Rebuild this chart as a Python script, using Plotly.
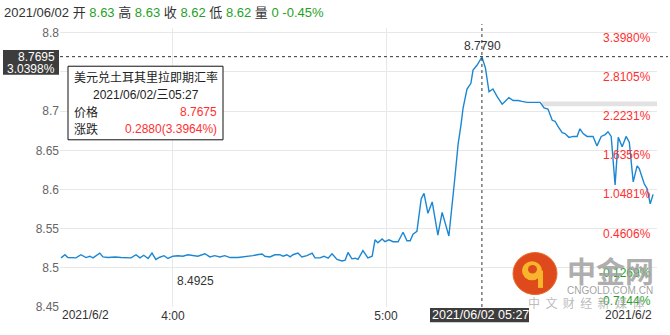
import plotly.graph_objects as go
import pandas as pd

# ---- data ----
minutes = [28.5, 29.6, 30.4, 31.8, 32.7, 34.1, 35.5, 36.6, 37.5, 39.4,
           40.3, 41.7, 43.7, 45.4, 48.2, 49.6, 50.7, 51.8, 53.0, 54.1,
           55.2, 56.3, 57.5, 58.6, 60.0, 61.4, 62.8, 64.2, 65.6, 67.0,
           69.0, 70.4, 71.8,
           73.2, 74.6, 76.1, 78.3, 80.3, 81.1, 82.5, 83.7, 85.1, 85.9,
           87.3, 88.7, 90.1, 91.0, 92.1, 93.0, 93.8, 95.2, 96.3, 97.7,
           99.2, 100.0, 101.4, 102.5, 103.7, 104.8, 106.2, 107.6, 108.5, 109.3,
           110.4, 111.3, 112.1, 113.5, 114.9, 116.1,
           116.9, 117.7, 118.9, 119.7, 120.8, 122.0, 123.4, 124.8, 125.9, 126.8,
           127.6, 128.7, 129.9, 130.7, 131.8, 133.0, 134.6, 135.8, 136.9, 137.7, 139.4,
           140.3, 141.1, 141.7, 142.8, 143.9, 144.5, 145.6, 147.0, 148.0, 149.0,
           150.1, 151.3, 152.7, 153.5, 154.6, 155.8, 157.2, 158.3, 159.7, 161.4, 163.4,
           164.5, 165.6, 166.8, 167.6, 168.5, 169.6, 170.4, 171.5, 172.7, 173.8,
           174.6, 175.5, 176.6, 178.3, 179.4, 180.6, 181.7, 182.5, 183.4, 184.5,
           185.4, 186.5, 187.6, 188.5, 189.6, 190.7, 191.3, 192.7, 193.5, 194.4, 195.2]

prices = [8.5127, 8.5167, 8.5131, 8.5131, 8.5127, 8.5167, 8.5131, 8.5148, 8.5127, 8.5188,
          8.5139, 8.5131, 8.5139, 8.5131, 8.5127, 8.5167, 8.5127, 8.5160, 8.5119, 8.5188,
          8.5107, 8.5135, 8.5155, 8.5119, 8.5148, 8.5155, 8.5148, 8.5167, 8.5155, 8.5148,
          8.5180, 8.5139, 8.5155,
          8.5139, 8.5155, 8.5131, 8.5131, 8.5139, 8.5148, 8.5155, 8.5167, 8.5176, 8.5148,
          8.5139, 8.5167, 8.5167, 8.5148, 8.5167, 8.5139, 8.5167, 8.5188, 8.5139, 8.5155,
          8.5188, 8.5127, 8.5127, 8.5148, 8.5123, 8.5180, 8.5107, 8.5087, 8.5099, 8.5196,
          8.5115, 8.5123, 8.5107, 8.5220, 8.5127, 8.5148,
          8.5357, 8.5321, 8.5369, 8.5333, 8.5357, 8.5333, 8.5333, 8.5454, 8.5345, 8.5345,
          8.5430, 8.5466, 8.5878, 8.5950, 8.5696, 8.5841, 8.5418, 8.5708, 8.5527, 8.5406, 8.6156,
          8.6580, 8.6822, 8.7040, 8.7282, 8.7355, 8.7524, 8.7585, 8.7690, 8.7549, 8.7246,
          8.7282, 8.7185, 8.7088, 8.7124, 8.7173, 8.7136, 8.7136, 8.7124, 8.7112, 8.7112, 8.7112,
          8.7040, 8.7027, 8.6883, 8.6871, 8.6798, 8.6725, 8.6713, 8.6665, 8.6677, 8.6677,
          8.6774, 8.6713, 8.6677, 8.6677, 8.6556, 8.6677, 8.6701, 8.6737, 8.6677, 8.6059,
          8.6665, 8.6544, 8.6677, 8.6604, 8.6096, 8.6302, 8.6266, 8.6072, 8.6011, 8.5817, 8.5938]

y_ticks = [8.45, 8.5, 8.55, 8.6, 8.65, 8.7, 8.75, 8.8]
y_tick_text = ["8.45", "8.5", "8.55", "8.6", "8.65", "8.7", "", "8.8"]
pct_labels = ["-0.7144%", "-0.1269%", "0.4606%", "1.0481%", "1.6356%", "2.2231%", "2.8105%", "3.3980%"]
x_tick_minutes = [60, 120]
x_tick_text = ["4:00", "5:00"]

cross_minute = 147.0
cross_price = 8.7695
cross_pct = "3.0398%"
cross_label = "2021/06/02 05:27"
max_label = "8.7790"
min_label = "8.4925"
header_parts = [("2021/06/02 开 ", "8.63"), (" 高 ", "8.63"), (" 收 ", "8.62"),
                (" 低 ", "8.62"), (" 量 ", "0"), (" ", "-0.45%")]
tip_title = "美元兑土耳其里拉即期汇率"
tip_time = "2021/06/02/三05:27"
tip_price = "8.7675"
tip_change = "0.2880(3.3964%)"

# ---- geometry helpers ----
W, H = 670, 335
L, R, T, B = 60, 657, 28, 320
def px(x):
    return (x - L) / (R - L)
def py(y):
    return (B - y) / (B - T)

base = pd.Timestamp("2021-06-02 03:00:00")
def tm(m):
    return base + pd.Timedelta(minutes=m)

times = [tm(m) for m in minutes]
FONT = "Liberation Sans, Arial, Noto Sans CJK SC, sans-serif"
RED = "#ff2f2f"
GREEN = "#1fa21f"
GRID = "#e8e8e8"

fig = go.Figure()
fig.add_trace(go.Scatter(x=times, y=prices, mode="lines",
                         line=dict(color="#1b87d3", width=1.4),
                         hoverinfo="skip", showlegend=False))

shapes = []
annotations = []

# gray band
shapes.append(dict(type="rect", xref="paper", yref="paper", x0=px(542), x1=px(657),
                   y0=py(110), y1=py(105), fillcolor="#e2e2e2", line=dict(width=0), layer="below"))
# crosshair
shapes.append(dict(type="line", xref="paper", yref="y", x0=0, x1=px(668), y0=cross_price, y1=cross_price,
                   line=dict(color="#333", width=1, dash="3px,3px")))
shapes.append(dict(type="line", xref="x", yref="paper", x0=tm(cross_minute), x1=tm(cross_minute),
                   y0=0, y1=py(24), line=dict(color="#333", width=1, dash="3px,3px")))

# percent labels on right
for v, t in zip(y_ticks, pct_labels):
    col = GREEN if t.startswith("-") else RED
    annotations.append(dict(xref="paper", yref="y", x=px(653), y=v, xanchor="right", yanchor="middle",
                            yshift=(6 if v == y_ticks[0] else -5), text=t, showarrow=False,
                            font=dict(family=FONT, size=12, color=col)))

# max / min labels
annotations.append(dict(xref="paper", yref="paper", x=px(482), y=py(47), text=max_label, showarrow=False,
                        xanchor="center", yanchor="middle", font=dict(family=FONT, size=12, color="#333")))
annotations.append(dict(xref="paper", yref="paper", x=px(195), y=py(293), text=min_label, showarrow=False,
                        xanchor="center", yanchor="middle", font=dict(family=FONT, size=12, color="#333")))

# x edge labels
annotations.append(dict(xref="paper", yref="paper", x=px(60), y=py(328), text="2021/6/2", showarrow=False,
                        xanchor="left", yanchor="middle", font=dict(family=FONT, size=12, color="#333")))
annotations.append(dict(xref="paper", yref="paper", x=px(654), y=py(328), text="2021/6/2", showarrow=False,
                        xanchor="right", yanchor="middle", font=dict(family=FONT, size=12, color="#333")))

# left dark box
shapes.append(dict(type="rect", xref="paper", yref="paper", x0=px(3), x1=px(59), y0=py(77), y1=py(51),
                   fillcolor="#3d3d3d", line=dict(width=0), layer="above"))
annotations.append(dict(xref="paper", yref="paper", x=px(57), y=py(58), text=f"{cross_price:.4f}",
                        showarrow=False, xanchor="right", yanchor="middle",
                        font=dict(family=FONT, size=12, color="white")))
annotations.append(dict(xref="paper", yref="paper", x=px(57), y=py(71), text=cross_pct,
                        showarrow=False, xanchor="right", yanchor="middle",
                        font=dict(family=FONT, size=12, color="white")))

# bottom dark box
shapes.append(dict(type="rect", xref="paper", yref="paper", x0=px(430), x1=px(529), y0=py(336), y1=py(321),
                   fillcolor="#3d3d3d", line=dict(width=0), layer="above"))
annotations.append(dict(xref="paper", yref="paper", x=px(480), y=py(328.5), text=cross_label,
                        showarrow=False, xanchor="center", yanchor="middle",
                        font=dict(family=FONT, size=12.5, color="white")))

# tooltip box
shapes.append(dict(type="rect", xref="paper", yref="paper", x0=px(68), x1=px(223), y0=py(145), y1=py(68),
                   fillcolor="white", line=dict(color="#111", width=1), layer="above"))
for txt, x, y, anc, col in [(tip_title, 146, 80, "center", "#222"),
                            (tip_time, 146, 98, "center", "#222"),
                            ("价格", 72, 116, "left", "#222"),
                            (tip_price, 219, 116, "right", RED),
                            ("涨跌", 72, 134, "left", "#222"),
                            (tip_change, 219, 134, "right", RED)]:
    annotations.append(dict(xref="paper", yref="paper", x=px(x), y=py(y), text=txt, showarrow=False,
                            xanchor=anc, yanchor="middle", font=dict(family=FONT, size=12, color=col)))

# header
htxt = "".join(f"<span style='color:#333'>{a}</span><span style='color:{GREEN}'>{b}</span>"
               for a, b in header_parts)
annotations.append(dict(xref="paper", yref="paper", x=px(2), y=py(12), text=htxt, showarrow=False,
                        xanchor="left", yanchor="middle", font=dict(family=FONT, size=13)))

# watermark logo
shapes.append(dict(type="circle", xref="paper", yref="paper", x0=px(513), x1=px(557), y0=py(307), y1=py(263),
                   fillcolor="#df4a1c", line=dict(color="#e86a2a", width=1), layer="above"))
shapes.append(dict(type="circle", xref="paper", yref="paper", x0=px(522), x1=px(542), y0=py(292), y1=py(272),
                   fillcolor="#f7b52c", line=dict(width=0), layer="above"))
shapes.append(dict(type="circle", xref="paper", yref="paper", x0=px(528), x1=px(537), y0=py(285), y1=py(276),
                   fillcolor="#df4a1c", line=dict(width=0), layer="above"))
shapes.append(dict(type="rect", xref="paper", yref="paper", x0=px(538), x1=px(543), y0=py(300), y1=py(282),
                   fillcolor="#f7b52c", line=dict(width=0), layer="above"))
annotations.append(dict(xref="paper", yref="paper", x=px(610), y=py(281), text="<b>中金网</b>", showarrow=False,
                        xanchor="center", yanchor="middle",
                        font=dict(family="Noto Sans CJK SC", size=29, color="rgba(160,160,160,0.85)")))
annotations.append(dict(xref="paper", yref="paper", x=px(610), y=py(303), text="CNGOLD.COM.CN", showarrow=False,
                        xanchor="center", yanchor="middle",
                        font=dict(family=FONT, size=10, color="rgba(150,150,150,0.9)")))
annotations.append(dict(xref="paper", yref="paper", x=px(586), y=py(315),
                        text="\u00a0\u00a0".join(list("中文财经新媒体")), showarrow=False,
                        xanchor="center", yanchor="middle",
                        font=dict(family="Noto Sans CJK SC", size=12, color="rgba(170,170,170,0.8)")))

fig.update_layout(
    width=W, height=H,
    margin=dict(l=L, r=W - R, t=T, b=H - B),
    paper_bgcolor="white", plot_bgcolor="white",
    xaxis=dict(range=[tm(28.2), tm(196.3)], tickvals=[tm(m) for m in x_tick_minutes],
               ticktext=x_tick_text, showgrid=True, gridcolor=GRID, gridwidth=1,
               zeroline=False, showline=False, ticks="",
               tickfont=dict(family=FONT, size=12, color="#333")),
    yaxis=dict(range=[8.45, 8.45 + (B - T) / 820], tickvals=y_ticks, ticktext=y_tick_text,
               showgrid=True, gridcolor=GRID, gridwidth=1, zeroline=False, showline=False,
               ticks="", tickfont=dict(family=FONT, size=12, color="#666")),
    shapes=shapes, annotations=annotations,
    showlegend=False,
)

fig.write_html("out.html")
